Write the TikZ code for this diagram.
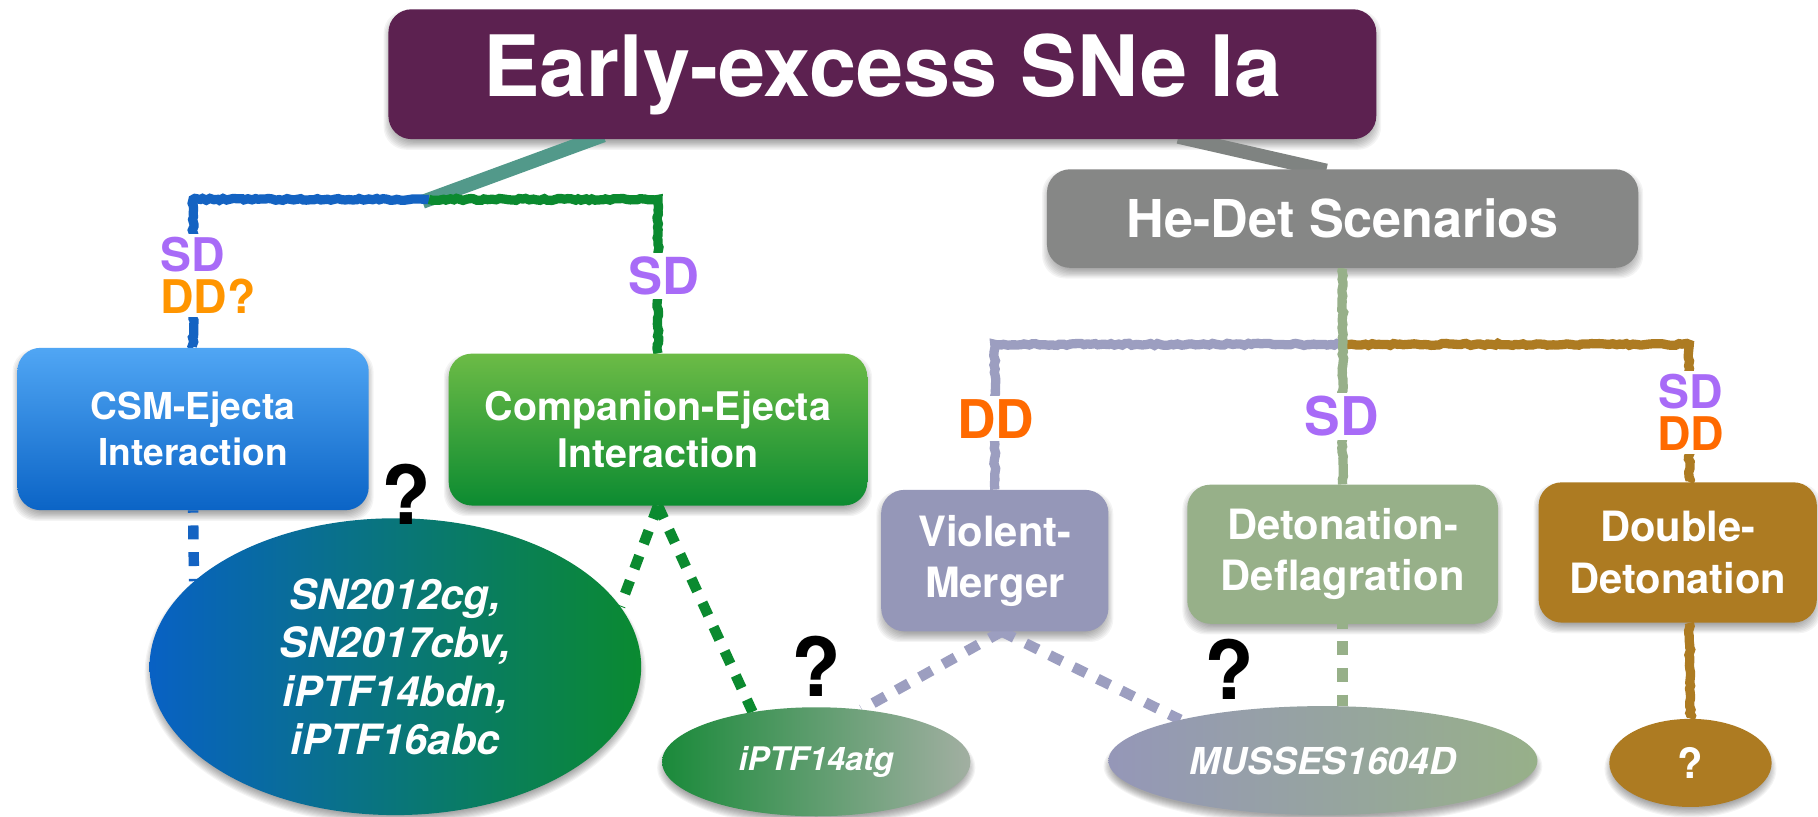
\documentclass[tikz,border=0pt]{standalone}
\usepackage{fontspec}
\setmainfont{TeX Gyre Heros}
\usetikzlibrary{shapes.geometric,decorations.pathmorphing,calc}

% palette
\definecolor{titlepurple}{HTML}{5C2150}
\definecolor{hegray}{HTML}{868786}
\definecolor{csmtop}{HTML}{50A6F4}
\definecolor{csmbot}{HTML}{0B64C6}
\definecolor{comptop}{HTML}{6CBB46}
\definecolor{compbot}{HTML}{0C8B31}
\definecolor{lavender}{HTML}{9597B8}
\definecolor{sage}{HTML}{97B089}
\definecolor{goldbrown}{HTML}{AD7B22}
\definecolor{bigL}{HTML}{0861C4}
\definecolor{bigR}{HTML}{0A8A30}
\definecolor{atgL}{HTML}{1A8A3A}
\definecolor{atgR}{HTML}{A2AFA2}
\definecolor{sdpurple}{HTML}{A86BF7}
\definecolor{ddyellow}{HTML}{FF9500}
\definecolor{ddred}{HTML}{FF6A00}
\definecolor{crayblue}{HTML}{1463C2}
\definecolor{craygreen}{HTML}{0B8A2F}
\definecolor{craylav}{HTML}{9C9EC0}
\definecolor{teal}{HTML}{52998A}
\definecolor{trunkgray}{HTML}{7F8381}

\pgfdeclarelayer{paper}
\pgfdeclarelayer{bg}
\pgfsetlayers{paper,bg,main}
\newcommand\fsz[2]{\fontsize{#1}{#2}\selectfont}

\tikzset{
  box/.style={rectangle, rounded corners=20pt, inner sep=0pt, text=white,
    align=center},
  blob/.style={ellipse, inner sep=0pt, text=white, align=center},
  tag/.style={fill=white, inner sep=3pt, align=center, font=\bfseries},
  quest/.style={inner sep=0pt, font=\bfseries\fsz{70}{70}},
  crayon/.style={line width=8pt, line join=miter, decorate,
    decoration={random steps, segment length=3pt, amplitude=0.9pt}},
  dashlink/.style={line width=9pt, dash pattern=on 12pt off 11pt},
  trunk/.style={line width=12pt, shorten <=-10pt, shorten >=-6pt},
  haze/.style={fill=black, fill opacity=0.045, rounded corners=20pt},
}

% soft shadow under a rectangular node: stacked translucent rounded rectangles
\newcommand\boxshadow[1]{%
  \begin{pgfonlayer}{bg}
    \foreach \k in {-4,...,4}
      \fill[haze] ([xshift=-\k pt, yshift=-5pt-\k pt]#1.south west)
        rectangle ([xshift=\k pt, yshift=-5pt+\k pt]#1.north east);
  \end{pgfonlayer}}
% soft shadow under an elliptical node
\newcommand\blobshadow[1]{%
  \begin{pgfonlayer}{bg}
    \foreach \k in {-4,...,4}
      \path let \p1=($(#1.east)-(#1.center)$), \p2=($(#1.north)-(#1.center)$) in
        [haze] ([yshift=-5pt]#1.center) ellipse [x radius=\x1+\k pt, y radius=\y2+\k pt];
  \end{pgfonlayer}}

\begin{document}
\pgfmathsetseed{11}
\begin{tikzpicture}[x=1pt,y=-1pt]
\begin{pgfonlayer}{paper}
  \fill[white] (0,0) rectangle (1568,704);
\end{pgfonlayer}
\useasboundingbox (0,0) rectangle (1568,704);

% ---- boxes ----
\node[box, fill=titlepurple, minimum width=852pt, minimum height=112pt,
  font=\bfseries\fsz{73}{80}] (title) at (761,64) {Early-excess SNe Ia};
\node[box, fill=hegray, minimum width=510pt, minimum height=85pt,
  font=\bfseries\fsz{45}{50}] (hedet) at (1158,188.5) {He-Det Scenarios};
\node[box, top color=csmtop, bottom color=csmbot, minimum width=303pt,
  minimum height=140pt, font=\bfseries\fsz{32}{40}] (csm) at (166.5,370)
  {CSM-Ejecta\\Interaction};
\node[box, top color=comptop, bottom color=compbot, minimum width=361pt,
  minimum height=131pt, font=\bfseries\fsz{34}{40}] (comp) at (567.5,370.5)
  {Companion-Ejecta\\Interaction};
\node[box, fill=lavender, minimum width=196pt, minimum height=122pt,
  font=\bfseries\fsz{36}{44}] (violent) at (858,483.5) {Violent-\\Merger};
\node[box, fill=sage, minimum width=268pt, minimum height=120pt,
  font=\bfseries\fsz{36}{44}] (detdef) at (1158,478) {Detonation-\\Deflagration};
\node[box, fill=goldbrown, minimum width=240pt, minimum height=121pt,
  font=\bfseries\fsz{36}{44}] (dbldet) at (1447,476.5) {Double-\\Detonation};

% ---- objects ----
\node[blob, left color=bigL, right color=bigR, minimum width=424pt,
  minimum height=256pt, font=\bfseries\itshape\fsz{36}{41.5}] (big) at (341,575)
  {SN2012cg,\\SN2017cbv,\\iPTF14bdn,\\iPTF16abc};
\node[blob, left color=atgL, right color=atgR, minimum width=266pt,
  minimum height=94pt, font=\bfseries\itshape\fsz{28}{30}] (atg) at (704,657)
  {iPTF14atg};
\node[blob, left color=lavender, right color=sage, minimum width=370pt,
  minimum height=94pt, font=\bfseries\itshape\fsz{32}{34}] (musses) at (1141,656)
  {MUSSES1604D};
\node[blob, fill=goldbrown, minimum width=140pt, minimum height=76pt,
  font=\bfseries\fsz{36}{38}] (qell) at (1458,658) {?};

\boxshadow{title}
\boxshadow{hedet}
\boxshadow{csm}
\boxshadow{comp}
\boxshadow{violent}
\boxshadow{detdef}
\boxshadow{dbldet}
\blobshadow{big}
\blobshadow{atg}
\blobshadow{musses}
\blobshadow{qell}

% ---- branch points ----
\coordinate (jL) at (370,172);
\coordinate (jR) at (1157,297);

% ---- connectors ----
\begin{pgfonlayer}{bg}
  \draw[trunk, teal] ([xshift=-250pt]title.south) -- (jL);
  \draw[trunk, trunkgray] ([xshift=265pt]title.south) -- ([xshift=-20pt]hedet.north);

  \draw[crayon, crayblue] (jL) -| (csm.north);
  \draw[crayon, craygreen] (jL) -| (comp.north);
  \draw[crayon, craylav] (jR) -| (violent.north);
  \draw[crayon, goldbrown] (jR) -| ([xshift=10pt]dbldet.north);
  \draw[crayon, sage] (hedet.south) -- (detdef.north);
  \draw[crayon, goldbrown] ([xshift=10pt]dbldet.south) -- (qell.north);

  \draw[dashlink, crayblue, dash phase=10pt] (csm.south) -- (big.157.6);
  \draw[dashlink, craygreen] (comp.south) -- (big.15);
  \draw[dashlink, craygreen] (comp.south) -- (atg.142);
  \draw[dashlink, craylav] ([xshift=6pt]violent.south) -- (atg.49);
  \draw[dashlink, craylav] ([xshift=6pt]violent.south) -- (musses.164);
  \draw[dashlink, sage, dash phase=8pt] (detdef.south) -- (detdef.south |- musses.north);
\end{pgfonlayer}

% ---- channel labels ----
\node[tag, anchor=west, align=left, font=\bfseries\fsz{40}{36}] (lblcsm) at (135,237.5)
  {\color{sdpurple}SD\\\color{ddyellow}DD?};
\node[tag, font=\bfseries\fsz{44}{44}, text=sdpurple] (lblcomp) at (573,238) {SD};
\node[tag, font=\bfseries\fsz{46}{46}, text=ddred] (lblvm) at (859,361) {DD};
\node[tag, font=\bfseries\fsz{46}{46}, text=sdpurple] (lbldd) at (1157,359) {SD};
\node[tag, font=\bfseries\fsz{40}{36}] (lbldbl) at (1458,355.5)
  {\color{sdpurple}SD\\\color{ddred}DD};

% ---- open questions ----
\node[quest] (q1) at (350,426) {?};
\node[quest] (q2) at (704,575) {?};
\node[quest] (q3) at (1060,577) {?};
\end{tikzpicture}
\end{document}
